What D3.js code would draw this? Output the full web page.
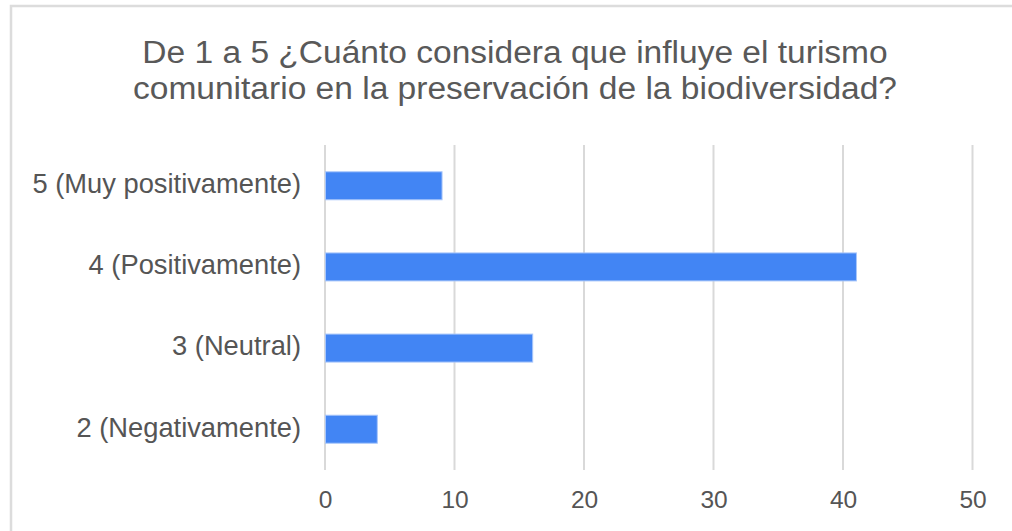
<!DOCTYPE html>
<html>
<head>
<meta charset="utf-8">
<script src="https://cdn.jsdelivr.net/npm/d3@7"></script>
<style>
html,body{margin:0;padding:0;background:#fff;}
svg{display:block;font-family:"Liberation Sans",Arial,sans-serif;}
</style>
</head>
<body>
<svg id="chart" width="1012" height="531"></svg>
<script>
const titleLines = ["De 1 a 5 ¿Cuánto considera que influye el turismo", "comunitario en la preservación de la biodiversidad?"];
const categories = ["5 (Muy positivamente)", "4 (Positivamente)", "3 (Neutral)", "2 (Negativamente)"];
const values = [9, 41, 16, 4];
const xTicks = [0, 10, 20, 30, 40, 50];

const svg = d3.select("#chart");
const W = 1012, H = 531;
const m = {left: 325, right: 39.5, top: 145, bottom: 61};

// border
svg.append("rect").attr("x", 11).attr("y", 6).attr("width", W + 20).attr("height", H + 20)
  .attr("fill", "#fff").attr("stroke", "#dcdcdc").attr("stroke-width", 2.5);

const x = d3.scaleLinear().domain([0, 50]).range([m.left, W - m.right]);
const y = d3.scaleBand().domain(categories).range([m.top, H - m.bottom]).paddingInner(0.655).paddingOuter(0.33);

// title
const tx = 515;
svg.append("g").attr("transform", `translate(${tx},0) scale(1.065,1)`)
  .append("text").attr("text-anchor", "middle")
  .attr("font-size", 31.5).attr("fill", "#595959")
  .selectAll("tspan").data(titleLines).join("tspan")
  .attr("x", 0).attr("y", (d, i) => 63 + i * 36).text(d => d);

// gridlines
svg.append("g").selectAll("line").data(xTicks).join("line")
  .attr("x1", d => x(d)).attr("x2", d => x(d))
  .attr("y1", m.top).attr("y2", H - m.bottom)
  .attr("stroke", "#d9d9d9").attr("stroke-width", 2);

// bars
svg.append("g").selectAll("rect").data(values).join("rect")
  .attr("x", x(0) + 0.5)
  .attr("y", (d, i) => y(categories[i]))
  .attr("width", d => x(d) - x(0))
  .attr("height", y.bandwidth())
  .attr("fill", "#4285f4")
  .attr("stroke", "#a8c6fa").attr("stroke-width", 1);

// x axis
const xAxis = d3.axisBottom(x).tickValues(xTicks).tickSize(0).tickPadding(0);
const gx = svg.append("g").attr("transform", `translate(0,508)`).call(xAxis);
gx.select(".domain").remove();
gx.selectAll("text").attr("font-size", 24.5).attr("fill", "#555").attr("font-family", "Liberation Sans, Arial, sans-serif").attr("y", 0).attr("dy", "0");

// y axis
const yAxis = d3.axisLeft(y).tickSize(0).tickPadding(0);
const gy = svg.append("g").attr("transform", `translate(301,0)`).call(yAxis);
gy.select(".domain").remove();
gy.selectAll("text").attr("font-size", 27.3).attr("fill", "#555").attr("font-family", "Liberation Sans, Arial, sans-serif").attr("dy", "0.27em");
</script>
</body>
</html>
